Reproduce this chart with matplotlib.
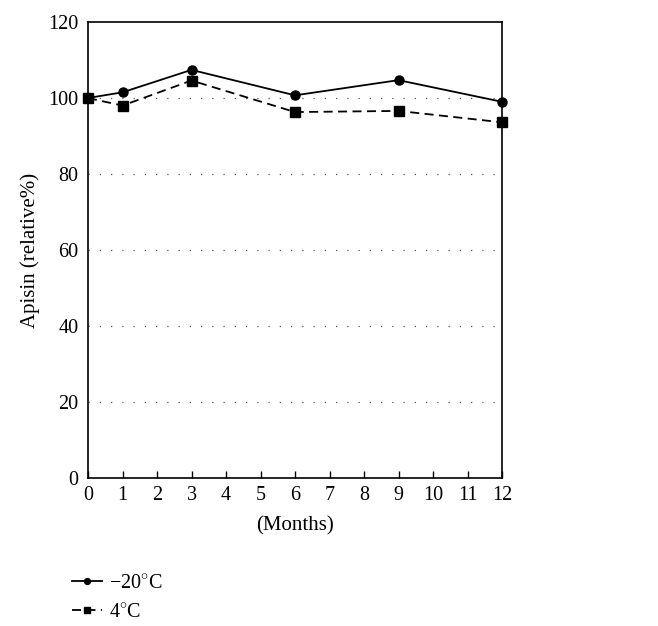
import matplotlib
matplotlib.use("Agg")
import matplotlib.pyplot as plt

months = [0, 1, 3, 6, 9, 12]
minus20 = [100, 101.5, 107.4, 100.7, 104.7, 99.0]
plus4 = [100, 98.0, 104.6, 96.3, 96.6, 93.6]
xticks = list(range(0, 13))
yticks = [0, 20, 40, 60, 80, 100, 120]
labels = ["\u221220$^{\\circ}$C", "4$^{\\circ}$C"]

plt.rcParams['font.family'] = ['Liberation Serif', 'DejaVu Serif']
plt.rcParams['mathtext.fontset'] = 'custom'
plt.rcParams['mathtext.rm'] = 'Liberation Serif'

fig = plt.figure(figsize=(6.58, 6.26), dpi=100)
ax = fig.add_axes([88/658, 1-478/626, (502-88)/658, (478-22)/626])

for y in [20, 40, 60, 80, 100]:
    ax.axhline(y, color='#555555', lw=0.9, linestyle=(0, (1, 8)), zorder=1)

l1, = ax.plot(months, minus20, color='black', lw=1.3, marker='o', ms=6.5, zorder=3, clip_on=False)
l2, = ax.plot(months, plus4, color='black', lw=1.3, linestyle=(0, (5, 3)), marker='s', ms=6.5, zorder=3, clip_on=False)

ax.set_xlim(0, 12)
ax.set_ylim(0, 120)
ax.set_xticks(xticks)
ax.set_yticks(yticks)
ax.tick_params(axis='x', direction='in', length=5, width=1, labelsize=14.5, pad=6)
ax.tick_params(axis='y', length=0, labelsize=14.5, pad=7)
for s in ax.spines.values():
    s.set_linewidth(1.2)
ax.set_xlabel("(Months)", fontsize=15, labelpad=8)
ax.set_ylabel("Apisin (relative%)", fontsize=15, labelpad=6)

fig.legend([l1, l2], labels, loc='upper left', bbox_to_anchor=(64/658, 1-566/626),
           frameon=False, handlelength=1.5, fontsize=14.5, labelspacing=0.5,
           handletextpad=0.35, markerscale=0.65, borderaxespad=0)

fig.savefig("out.png", dpi=100)
